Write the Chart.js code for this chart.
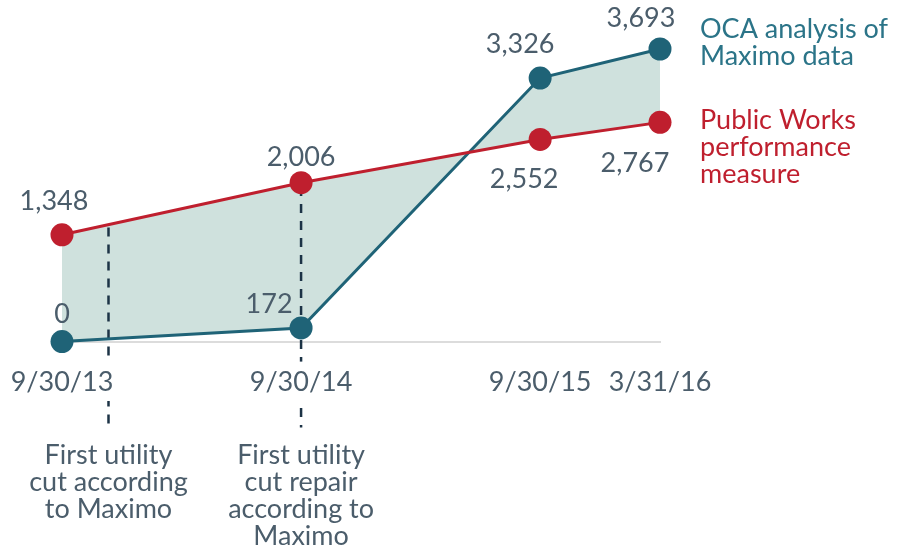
<!DOCTYPE html>
<html>
<head>
<title>Utility cuts: OCA vs Public Works</title>
<script src="https://cdn.jsdelivr.net/npm/chart.js@4/dist/chart.umd.min.js"></script>
<style>
body { margin: 0; background: #fff; }
#wrap { width: 903px; height: 550px; }
</style>
</head>
<body>
<div id="wrap"><canvas id="myChart"></canvas></div>
<script>
// days since 9/30/13
var days = [0, 365, 730, 913];
var tickLabels = ['9/30/13', '9/30/14', '9/30/15', '3/31/16'];
var ocaValues = [0, 172, 3326, 3693];
var pwValues = [1348, 2006, 2552, 2767];
var ocaName = ['OCA analysis of', 'Maximo data'];
var pwName = ['Public Works', 'performance', 'measure'];
// marker lines: day, top value, bottom value, note lines
var markerDays = [71, 365];
var markerTop = [1440, 1950];
var markerBottom = -1085;
var markerNotes = [
  ['First utility', 'cut according', 'to Maximo'],
  ['First utility', 'cut repair', 'according to', 'Maximo']
];

var teal = '#1f6377';
var red = '#bf1f2e';
var grey = '#4b5d6b';
var FONT = '27px Lato';

function pts(vals) {
  return vals.map(function (v, i) { return { x: days[i], y: v }; });
}
function markerLine(i) {
  return {
    data: [{ x: markerDays[i], y: markerTop[i] }, { x: markerDays[i], y: markerBottom }],
    borderColor: '#1c3346', borderWidth: 2.5, borderDash: [9, 8],
    pointRadius: 0, fill: false, clip: false
  };
}

// label offsets from each point, px
var pwOff = [[-8, -33], [0, -25], [-16, 40], [-25, 41]];
var ocaOff = [[0, -27], [-32, -24], [-20, -34], [-19, -31]];

var textPlugin = {
  id: 'texts',
  afterDraw: function (chart) {
    var ctx = chart.ctx;
    var xs = chart.scales.x, ys = chart.scales.y;
    ctx.save();
    ctx.textAlign = 'center';
    ctx.textBaseline = 'middle';
    ctx.font = FONT;
    ctx.fillStyle = grey;
    pwValues.forEach(function (v, i) {
      ctx.fillText(v.toLocaleString('en-US'), xs.getPixelForValue(days[i]) + pwOff[i][0], ys.getPixelForValue(v) + pwOff[i][1]);
    });
    ocaValues.forEach(function (v, i) {
      ctx.fillText(v.toLocaleString('en-US'), xs.getPixelForValue(days[i]) + ocaOff[i][0], ys.getPixelForValue(v) + ocaOff[i][1]);
    });
    // notes under the marker lines
    markerNotes.forEach(function (lines, i) {
      var x = xs.getPixelForValue(markerDays[i]);
      lines.forEach(function (t, j) {
        ctx.fillText(t, x, 455 + j * 27);
      });
    });
    // series names at the right
    ctx.textAlign = 'left';
    var last = days.length - 1;
    var lx = xs.right + 40;
    var oy = ys.getPixelForValue(ocaValues[last]);
    ctx.fillStyle = '#2b7488';
    ocaName.forEach(function (t, j) { ctx.fillText(t, lx, oy - 20 + j * 27); });
    var py = ys.getPixelForValue(pwValues[last]);
    ctx.fillStyle = red;
    pwName.forEach(function (t, j) { ctx.fillText(t, lx, py - 2 + j * 27); });
    ctx.restore();
  }
};

var ctx = document.getElementById('myChart').getContext('2d');
var chart = new Chart(ctx, {
  type: 'line',
  data: {
    datasets: [
      {
        label: 'Public Works performance measure',
        data: pts(pwValues),
        borderColor: red, backgroundColor: red, borderWidth: 3,
        pointRadius: 11.5, pointHoverRadius: 11.5, pointBorderWidth: 0,
        pointBackgroundColor: red, fill: false, clip: false
      },
      {
        label: 'OCA analysis of Maximo data',
        data: pts(ocaValues),
        borderColor: teal, backgroundColor: '#cfe1dd', borderWidth: 3,
        pointRadius: 11.5, pointHoverRadius: 11.5, pointBorderWidth: 0,
        pointBackgroundColor: teal, fill: '-1', clip: false
      },
      markerLine(0),
      markerLine(1)
    ]
  },
  options: {
    responsive: true,
    maintainAspectRatio: false,
    animation: false,
    events: [],
    layout: { padding: { left: 62, right: 243, top: 49, bottom: 149 } },
    plugins: {
      legend: { display: false },
      tooltip: { enabled: false },
      filler: { drawTime: 'beforeDatasetsDraw' }
    },
    scales: {
      x: {
        type: 'linear', min: 0, max: 913,
        grid: { display: false, drawTicks: true, tickLength: 21 },
        border: { display: true, color: '#dcdcdc', width: 2 },
        afterBuildTicks: function (axis) {
          axis.ticks = days.map(function (d) { return { value: d }; });
        },
        ticks: {
          z: 1, autoSkip: false, maxRotation: 0, padding: 3,
          font: { family: 'Lato', size: 27 }, color: grey,
          showLabelBackdrop: true, backdropColor: '#fff', backdropPadding: 4,
          callback: function (v) { return tickLabels[days.indexOf(v)]; }
        }
      },
      y: { display: false, min: 0, max: 3693 }
    }
  },
  plugins: [textPlugin]
});
</script>
</body>
</html>
